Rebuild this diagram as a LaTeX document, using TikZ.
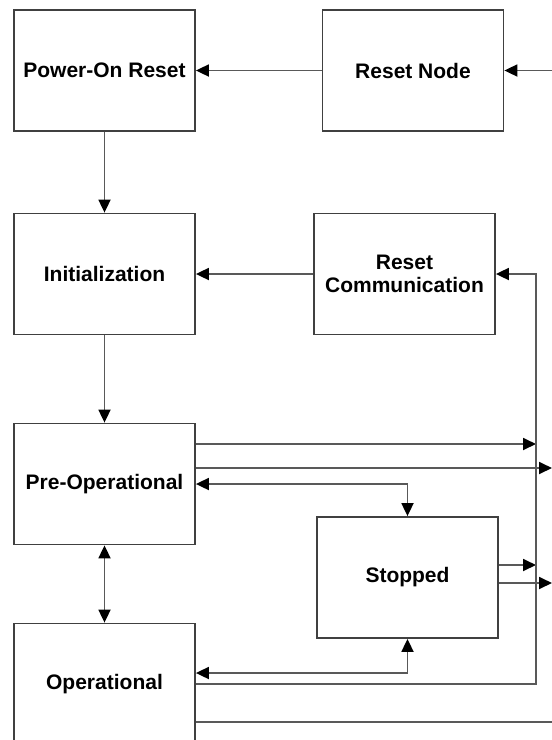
\documentclass[tikz,border=0pt]{standalone}
\usepackage{fontspec}
\setmainfont{Liberation Sans}
\usetikzlibrary{arrows.meta,calc}
\begin{document}
\begin{tikzpicture}[x=1pt,y=-1pt,
  statebox/.style={draw=black!75,line width=1.8pt,fill=white,rectangle,align=center,
    minimum width=181pt,minimum height=121pt,inner sep=0pt,
    font=\fontsize{21}{23}\selectfont\bfseries},
  conn/.style={draw=black!65,line width=1.8pt},
  tip/.style={-{Triangle[length=13pt,width=12pt,color=black]}},
  dtip/.style={{Triangle[length=13pt,width=12pt,color=black]}-{Triangle[length=13pt,width=12pt,color=black]}}
]
\useasboundingbox (0,0) rectangle (552,740);
\clip (0,0) rectangle (552,740);
\fill[white] (0,0) rectangle (552,740);

\node[statebox] (por) at (104.5,70.5) {Power-On Reset};
\node[statebox] (rn) at (413,70.5) {Reset Node};
\node[statebox] (init) at (104.5,274) {Initialization};
\node[statebox] (rc) at (404.5,274) {Reset\\Communication};
\node[statebox] (pre) at (104.5,484) {Pre-Operational};
\node[statebox] (stop) at (407.5,577.5) {Stopped};
\node[statebox] (op) at (104.5,684) {Operational};

\coordinate (inRN) at (552,70.5);
\coordinate (busTop) at (536,274);
\coordinate (e1) at (552,468);
\coordinate (e2) at (552,583);
\coordinate (e3) at (552,722);

% top
\draw[conn,tip] (rn.west) -- (por.east);
\draw[conn,tip] (inRN) -- (rn.east);
\draw[conn,tip] (por.south) -- (init.north);
\draw[conn,tip] (rc.west) -- (init.east);
\draw[conn,tip] (init.south) -- (pre.north);
% pre-operational
\draw[conn,tip] ([yshift=40pt]pre.east) -- ([yshift=40pt]pre.east -| busTop);
\draw[conn,tip] ([yshift=16pt]pre.east) -- ([yshift=16pt]pre.east -| e1);
\draw[conn,dtip] (pre.east) -| (stop.north);
\draw[conn,dtip] (pre.south) -- (op.north);
% stopped
\draw[conn,tip] ([yshift=12.5pt]stop.east) -- ([yshift=12.5pt]stop.east -| busTop);
\draw[conn,tip] ([yshift=-5.5pt]stop.east) -- ([yshift=-5.5pt]stop.east -| e2);
% operational
\draw[conn,dtip] ([yshift=11pt]op.east) -| (stop.south);
\draw[conn,tip] (op.east) -| (busTop) -- (rc.east);
\draw[conn] ([yshift=-38pt]op.east) -- ([yshift=-38pt]op.east -| e3);
\end{tikzpicture}
\end{document}
